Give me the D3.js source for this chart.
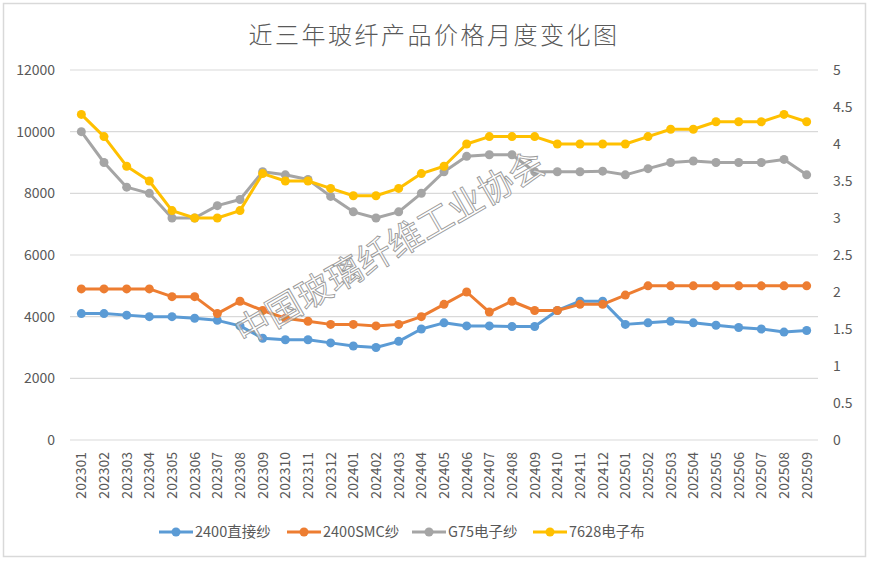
<!DOCTYPE html>
<html>
<head>
<meta charset="utf-8">
<script src="https://cdn.jsdelivr.net/npm/d3@7"></script>
<style>
  body { margin: 0; background: #fff; }
  svg text { font-family: "Noto Sans CJK SC", "Noto Sans", sans-serif; fill: #595959; }
</style>
</head>
<body>
<div id="chart"></div>
<script>
var svgWidth = 869;
var svgHeight = 561;

var margin = { top: 70, right: 51, bottom: 121, left: 70 };
var width = svgWidth - margin.left - margin.right;
var height = svgHeight - margin.top - margin.bottom;

// months 202301 .. 202509
var months = ["202301","202302","202303","202304","202305","202306","202307","202308","202309","202310","202311","202312",
  "202401","202402","202403","202404","202405","202406","202407","202408","202409","202410","202411","202412",
  "202501","202502","202503","202504","202505","202506","202507","202508","202509"];

// left axis series (yuan/ton)
var direct2400 = [4100,4100,4050,4000,4000,3950,3880,3700,3300,3250,3250,3150,3050,3000,3200,3600,3800,3700,3700,3680,3680,4200,4500,4500,3750,3800,3850,3800,3720,3650,3600,3500,3550];
var smc2400 = [4900,4900,4900,4900,4650,4650,4100,4500,4200,3950,3850,3750,3750,3700,3750,4000,4400,4800,4150,4500,4200,4200,4400,4400,4700,5000,5000,5000,5000,5000,5000,5000,5000];
var g75 = [10000,9000,8200,8000,7200,7200,7600,7800,8700,8600,8450,7900,7400,7200,7400,8000,8700,9200,9250,9250,8700,8700,8700,8720,8600,8800,9000,9050,9000,9000,9000,9100,8600];
// right axis series (yuan/meter)
var cloth7628 = [4.4,4.1,3.7,3.5,3.1,3.0,3.0,3.1,3.6,3.5,3.5,3.4,3.3,3.3,3.4,3.6,3.7,4.0,4.1,4.1,4.1,4.0,4.0,4.0,4.0,4.1,4.2,4.2,4.3,4.3,4.3,4.4,4.3];

var leftTicks = [0,2000,4000,6000,8000,10000,12000];
var rightTicks = [0,0.5,1,1.5,2,2.5,3,3.5,4,4.5,5];

var series = [
  { name: "2400直接纱", values: direct2400, color: "#5B9BD5", axis: "left" },
  { name: "2400SMC纱", values: smc2400, color: "#ED7D31", axis: "left" },
  { name: "G75电子纱", values: g75, color: "#A5A5A5", axis: "left" },
  { name: "7628电子布", values: cloth7628, color: "#FFC000", axis: "right" }
];

var svg = d3.select("#chart")
  .append("svg")
  .attr("width", svgWidth)
  .attr("height", svgHeight);

// outer border
svg.append("rect")
  .attr("x", 3.5).attr("y", 3.5)
  .attr("width", 862).attr("height", 553)
  .attr("fill", "none")
  .attr("stroke", "#d9d9d9")
  .attr("stroke-width", 1.5);

svg.append("text")
  .attr("x", 434)
  .attr("y", 44)
  .attr("text-anchor", "middle")
  .attr("font-size", "24px")
  .attr("font-weight", 300)
  .attr("letter-spacing", "2.5px")
  .text("近三年玻纤产品价格月度变化图");

var chartGroup = svg.append("g")
  .attr("transform", `translate(${margin.left}, ${margin.top})`);

var xScale = d3.scaleBand()
  .domain(months)
  .range([0, width]);

var yLeft = d3.scaleLinear().domain([0, 12000]).range([height, 0]);
var yRight = d3.scaleLinear().domain([0, 5]).range([height, 0]);

// gridlines
chartGroup.append("g")
  .selectAll("line")
  .data(leftTicks)
  .enter()
  .append("line")
  .attr("x1", 0).attr("x2", width)
  .attr("y1", d => yLeft(d)).attr("y2", d => yLeft(d))
  .attr("stroke", "#d9d9d9")
  .attr("stroke-width", 1.2);

// axes
var leftAxis = d3.axisLeft(yLeft).tickValues(leftTicks).tickSize(0).tickPadding(15).tickFormat(d3.format("d"));
var rightAxis = d3.axisRight(yRight).tickValues(rightTicks).tickSize(0).tickPadding(15).tickFormat(d3.format("~g"));
var bottomAxis = d3.axisBottom(xScale).tickSize(0);

var gl = chartGroup.append("g").call(leftAxis);
gl.select(".domain").remove();
gl.selectAll("text").attr("font-size", "14px").style("fill", "#595959");

var gr = chartGroup.append("g").attr("transform", `translate(${width}, 0)`).call(rightAxis);
gr.select(".domain").remove();
gr.selectAll("text").attr("font-size", "14px").style("fill", "#595959");

var gb = chartGroup.append("g").attr("transform", `translate(0, ${height})`).call(bottomAxis);
gb.select(".domain").remove();
gb.selectAll("text")
  .attr("font-size", "14px")
  .style("fill", "#595959")
  .attr("text-anchor", "end")
  .attr("transform", "rotate(-90)")
  .attr("x", -12)
  .attr("y", 0)
  .attr("dy", "0.35em");

// lines and markers
series.forEach(function(s) {
  var yScale = s.axis === "left" ? yLeft : yRight;
  var line = d3.line()
    .x((d, i) => xScale(months[i]) + xScale.bandwidth() / 2)
    .y(d => yScale(d));

  chartGroup.append("path")
    .datum(s.values)
    .attr("fill", "none")
    .attr("stroke", s.color)
    .attr("stroke-width", 3)
    .attr("stroke-linejoin", "round")
    .attr("d", line);

  chartGroup.append("g")
    .selectAll("circle")
    .data(s.values)
    .enter()
    .append("circle")
    .attr("cx", (d, i) => xScale(months[i]) + xScale.bandwidth() / 2)
    .attr("cy", d => yScale(d))
    .attr("r", 4.5)
    .attr("fill", s.color);
});

// watermark
svg.append("text")
  .attr("transform", "translate(390, 248) rotate(-30)")
  .attr("text-anchor", "middle")
  .attr("dy", "0.35em")
  .attr("font-size", "35px")
  .style("fill", "rgba(255,255,255,0.55)")
  .style("stroke", "#9a9a9a")
  .style("stroke-width", 0.9)
  .text("中国玻璃纤维工业协会");

// legend
var legendX = [159, 287, 412, 533];
var legend = svg.append("g");
series.forEach(function(s, i) {
  var g = legend.append("g").attr("transform", `translate(${legendX[i]}, 532)`);
  g.append("line")
    .attr("x1", 0).attr("x2", 34)
    .attr("y1", 0).attr("y2", 0)
    .attr("stroke", s.color)
    .attr("stroke-width", 3);
  g.append("circle")
    .attr("cx", 17).attr("cy", 0)
    .attr("r", 4.5)
    .attr("fill", s.color);
  g.append("text")
    .attr("x", 36)
    .attr("y", 0)
    .attr("dy", "0.35em")
    .attr("font-size", "14.5px")
    .text(s.name);
});
</script>
</body>
</html>
